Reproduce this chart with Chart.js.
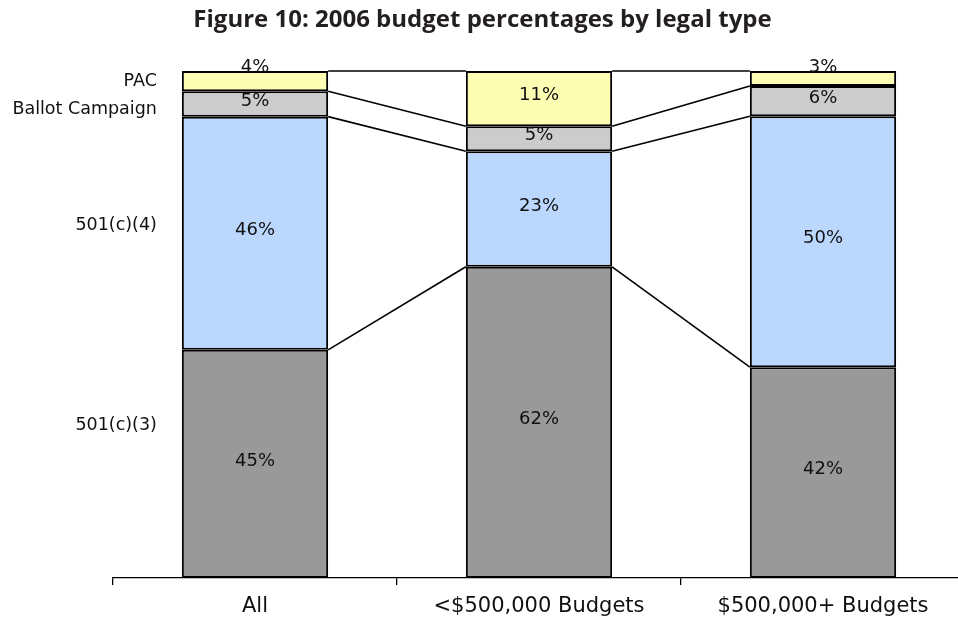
<!DOCTYPE html>
<html>
<head>
<meta charset="utf-8">
<script src="https://cdn.jsdelivr.net/npm/chart.js@4/dist/chart.umd.min.js"></script>
<style>
  html, body { margin: 0; padding: 0; background: #fff; overflow: hidden; width: 958px; height: 617px; }
  #wrap { width: 1000px; height: 617px; }
</style>
</head>
<body>
<div id="wrap"><canvas id="c" width="1000" height="617"></canvas></div>
<script>
const categories = ['All', '<$500,000 Budgets', '$500,000+ Budgets'];
const seriesNames = ['501(c)(3)', '501(c)(4)', 'Ballot Campaign', 'PAC'];
const pct501c3 = [45, 62, 42];
const pct501c4 = [46, 23, 50];
const pctBallot = [5, 5, 6];
const pctPac = [4, 11, 3];
const seriesValues = [pct501c3, pct501c4, pctBallot, pctPac];
const seriesColors = ['#999999', '#bbd7fd', '#cccccc', '#fdfdb4'];
// value-axis level at which each series name is written, beside the first column
const nameLevels = [30, 69.6, 92.5, 98];

// 100% stacked: each column is shown as shares of its own total
const columnTotals = categories.map((_, j) => seriesValues.reduce((s, arr) => s + arr[j], 0));
const shares = seriesValues.map(arr => arr.map((v, j) => v / columnTotals[j] * 100));

const TEXT = '#111';
const VERDANA = '"DejaVu Sans", Verdana, sans-serif';

const stackExtras = {
  id: 'stackExtras',
  afterDatasetsDraw(chart) {
    const ctx = chart.ctx;
    const metas = chart.data.datasets.map((d, i) => chart.getDatasetMeta(i));
    ctx.save();

    // series lines joining the segment tops of neighbouring columns
    ctx.strokeStyle = '#000';
    ctx.lineWidth = 1.6;
    metas.forEach(meta => {
      for (let j = 0; j < meta.data.length - 1; j++) {
        const a = meta.data[j], b = meta.data[j + 1];
        ctx.beginPath();
        ctx.moveTo(a.x + a.width / 2, a.y);
        ctx.lineTo(b.x - b.width / 2, b.y);
        ctx.stroke();
      }
    });

    // value labels
    ctx.font = '18px ' + VERDANA;
    ctx.fillStyle = TEXT;
    ctx.textAlign = 'center';
    metas.forEach((meta, i) => {
      meta.data.forEach((bar, j) => {
        const raw = seriesValues[i][j];
        const top = Math.min(bar.y, bar.base), bottom = Math.max(bar.y, bar.base);
        if (i === metas.length - 1 && raw < 5) {
          // thin top slice: the label rests on the column top
          ctx.textBaseline = 'alphabetic';
          ctx.fillText(raw + '%', bar.x, top + 1);
        } else {
          ctx.textBaseline = 'middle';
          ctx.fillText(raw + '%', bar.x, (top + bottom) / 2 - 3);
        }
      });
    });

    // series names to the left of the first column
    const first = metas[0].data[0];
    const xr = first.x - first.width / 2 - 25;
    ctx.textAlign = 'right';
    ctx.textBaseline = 'middle';
    ctx.font = '17.5px ' + VERDANA;
    seriesNames.forEach((n, i) => {
      ctx.fillText(n, xr, chart.scales.y.getPixelForValue(nameLevels[i]));
    });
    ctx.restore();
  }
};

new Chart(document.getElementById('c'), {
  type: 'bar',
  data: {
    labels: categories,
    datasets: seriesNames.map((name, i) => ({
      label: name,
      data: shares[i],
      backgroundColor: seriesColors[i],
      borderColor: '#000',
      borderWidth: 2,
      borderSkipped: false,
      barPercentage: 0.515,
      categoryPercentage: 1
    }))
  },
  options: {
    responsive: false,
    animation: false,
    layout: { padding: { top: 0, right: 35, left: 0, bottom: 0 } },
    plugins: {
      legend: { display: false },
      tooltip: { enabled: false },
      title: {
        display: true,
        text: 'Figure 10: 2006 budget percentages by legal type',
        font: { family: '"Open Sans", sans-serif', size: 24, weight: 'bold' },
        color: '#231f20',
        padding: { top: 6, bottom: 36.2 }
      }
    },
    scales: {
      x: {
        stacked: true,
        grid: { offset: true, drawOnChartArea: false, drawTicks: true, tickLength: 7, color: '#000', lineWidth: 1.3 },
        border: { display: true, color: '#000', width: 1.3 },
        ticks: { font: { family: VERDANA, size: 21 }, color: TEXT, padding: 9 },
        afterFit(s) { s.height = 39; }
      },
      y: {
        stacked: true,
        min: 0,
        max: 100,
        grid: { display: false },
        border: { display: false },
        ticks: { display: false },
        afterFit(s) { s.width = 113; }
      }
    }
  },
  plugins: [stackExtras]
});
</script>
</body>
</html>
